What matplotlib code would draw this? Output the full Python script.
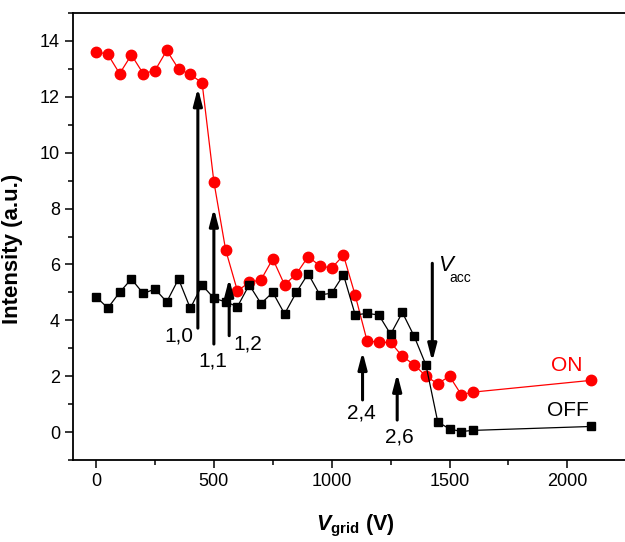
import matplotlib
matplotlib.use("Agg")
import matplotlib.pyplot as plt
from matplotlib.ticker import MultipleLocator

plt.rcParams['font.family'] = ['Liberation Sans', 'DejaVu Sans']
plt.rcParams['mathtext.fontset'] = 'custom'
plt.rcParams['mathtext.it'] = 'Liberation Sans:italic:bold'
plt.rcParams['mathtext.rm'] = 'Liberation Sans:bold'
plt.rcParams['mathtext.bf'] = 'Liberation Sans:bold'

v_grid = [0, 50, 100, 150, 200, 250, 300, 350, 400, 450, 500, 550, 600, 650, 700,
          750, 800, 850, 900, 950, 1000, 1050, 1100, 1150, 1200, 1250, 1300, 1350,
          1400, 1450, 1500, 1550, 1600, 2100]
on_vals = [13.62, 13.52, 12.83, 13.5, 12.83, 12.94, 13.66, 13.0, 12.8, 12.5, 8.96,
           6.52, 5.05, 5.36, 5.45, 6.2, 5.27, 5.66, 6.28, 5.95, 5.87, 6.33, 4.89,
           3.27, 3.21, 3.21, 2.71, 2.41, 2.0, 1.73, 2.0, 1.34, 1.43, 1.85]
off_vals = [4.84, 4.44, 5.0, 5.48, 4.96, 5.12, 4.66, 5.48, 4.43, 5.26, 4.79, 4.66,
            4.49, 5.27, 4.6, 5.0, 4.23, 5.0, 5.67, 4.91, 4.97, 5.63, 4.19, 4.25,
            4.19, 3.5, 4.28, 3.43, 2.4, 0.37, 0.11, 0.02, 0.06, 0.2]

arrow_labels = ['1,0', '1,1', '1,2', '2,4', '2,6']
arrow_x = [432, 500, 565, 1131, 1278]
arrow_y0 = [3.72, 3.15, 3.45, 1.15, 0.43]
arrow_y1 = [12.32, 8.01, 5.5, 2.88, 2.1]
label_x = [352, 494, 645, 1127, 1289]
label_y = [3.44, 2.54, 3.15, 0.68, -0.18]

fig = plt.figure(figsize=(6.25, 5.42), dpi=100)
ax = fig.add_axes([72.5/625, 1-460/542, (638-72.5)/625, (460-13)/542])

ax.plot(v_grid, on_vals, '-o', color='#ff0000', lw=0.9, ms=7.5, mec='#ff0000', zorder=3)
ax.plot(v_grid, off_vals, '-s', color='black', lw=0.9, ms=6, zorder=4)

ax.set_xlim(-100, 2300)
ax.set_ylim(-1, 15)
ax.xaxis.set_major_locator(MultipleLocator(500))
ax.xaxis.set_minor_locator(MultipleLocator(250))
ax.yaxis.set_major_locator(MultipleLocator(2))
ax.yaxis.set_minor_locator(MultipleLocator(1))
ax.tick_params(which='major', direction='out', length=6, width=1.1, labelsize=13, pad=3)
ax.tick_params(which='minor', direction='out', length=3.5, width=1.1)
for s in ax.spines.values():
    s.set_linewidth(1.3)

for lab, x, y0, y1, lx, ly in zip(arrow_labels, arrow_x, arrow_y0, arrow_y1, label_x, label_y):
    ax.annotate('', xy=(x, y1), xytext=(x, y0),
                arrowprops=dict(arrowstyle='-|>,head_length=0.5,head_width=0.13',
                                lw=2.2, color='black', shrinkA=0, shrinkB=0,
                                mutation_scale=20))
    ax.text(lx, ly, lab, fontsize=15, ha='center', va='center')

ax.annotate('', xy=(1427, 2.52), xytext=(1427, 6.04),
            arrowprops=dict(arrowstyle='-|>,head_length=0.5,head_width=0.13',
                            lw=2.2, color='black', shrinkA=0, shrinkB=0,
                            mutation_scale=20))
ax.text(1484, 5.96, 'V', fontsize=16, style='italic', ha='center', va='center')
ax.text(1500, 5.5, 'acc', fontsize=10, ha='left', va='center')

ax.text(1998, 2.37, 'ON', fontsize=15, color='#ff0000', ha='center', va='center')
ax.text(2002, 0.77, 'OFF', fontsize=15, color='black', ha='center', va='center')

ax.set_ylabel('Intensity (a.u.)', fontsize=16, fontweight='bold')
ax.yaxis.set_label_coords(-0.088, (460 - 249) / 447)
ax.set_xlabel(r'$V_{\mathrm{grid}}$ (V)', fontsize=15.5, fontweight='bold', labelpad=17)

fig.savefig('out.png', dpi=100)
